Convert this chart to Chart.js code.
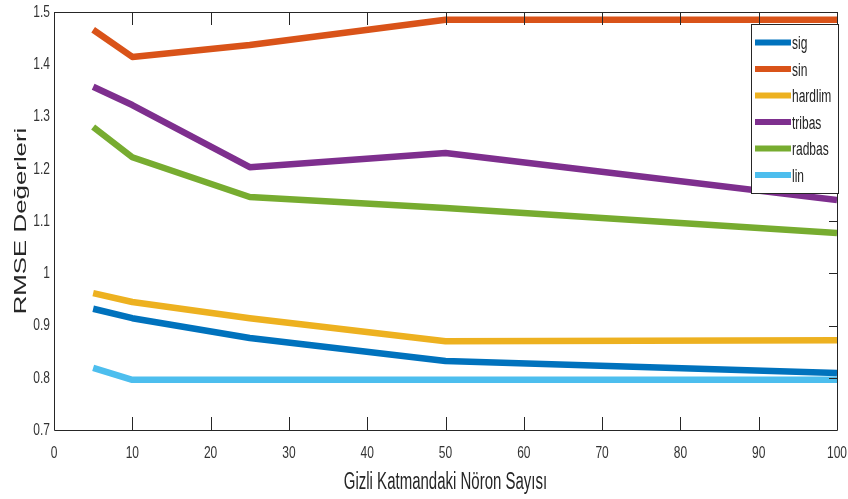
<!DOCTYPE html>
<html><head><meta charset="utf-8">
<script src="https://cdn.jsdelivr.net/npm/chart.js@4"></script>
<style>html,body{margin:0;padding:0;background:#fff}#wrap{width:848px;height:499px}</style>
</head><body><div id="wrap"><canvas id="c" width="848" height="499"></canvas></div>
<script>
const neurons = [5, 10, 25, 50, 100];
const sig     = [0.932, 0.914, 0.876, 0.832, 0.809];
const sin     = [1.466, 1.414, 1.437, 1.485, 1.485];
const hardlim = [0.962, 0.945, 0.914, 0.870, 0.872];
const tribas  = [1.357, 1.322, 1.203, 1.230, 1.140];
const radbas  = [1.280, 1.222, 1.146, 1.125, 1.077];
const lin     = [0.819, 0.796, 0.796, 0.796, 0.796];
const seriesNames = ['sig', 'sin', 'hardlim', 'tribas', 'radbas', 'lin'];
const seriesValues = [sig, sin, hardlim, tribas, radbas, lin];
const colors = ['#0072BD', '#D95319', '#EDB120', '#7E2F8E', '#77AC30', '#4DBEEE'];
const xTitle = 'Gizli Katmandaki Nöron Sayısı';
const yTitle = 'RMSE Değerleri';

const FONT = '"Liberation Sans", Arial, Helvetica, sans-serif';

const datasets = seriesNames.map((n, i) => ({
  label: n,
  data: neurons.map((x, j) => ({x: x, y: seriesValues[i][j]})),
  borderColor: colors[i], backgroundColor: colors[i],
  borderWidth: 6.5, pointRadius: 0, tension: 0, fill: false,
  borderJoinStyle: 'round', borderCapStyle: 'butt'
}));

function stretchedText(ctx, text, x, y, size, align, color, stretch, rotate) {
  ctx.save();
  ctx.translate(x, y);
  if (rotate) { ctx.rotate(-Math.PI / 2); ctx.scale(stretch, 1); }
  else ctx.scale(1, stretch);
  ctx.font = size + 'px ' + FONT;
  ctx.fillStyle = color;
  ctx.textAlign = align;
  ctx.textBaseline = 'middle';
  ctx.fillText(text, 0, 0);
  ctx.restore();
}

const boxPlugin = {
  id: 'box',
  afterDatasetsDraw(chart) {
    const ctx = chart.ctx, a = chart.chartArea, xs = chart.scales.x, ys = chart.scales.y;
    ctx.save();
    ctx.strokeStyle = '#262626'; ctx.lineWidth = 1;
    ctx.beginPath();
    ctx.rect(a.left + 0.5, a.top + 0.5, a.right - a.left, a.bottom - a.top);
    ctx.stroke();
    ctx.beginPath();
    xs.ticks.forEach(t => {
      const px = Math.round(xs.getPixelForValue(t.value)) + 0.5;
      ctx.moveTo(px, a.bottom); ctx.lineTo(px, a.bottom - 13);
      ctx.moveTo(px, a.top); ctx.lineTo(px, a.top + 13);
    });
    ys.ticks.forEach(t => {
      const py = Math.round(ys.getPixelForValue(t.value)) + 0.5;
      ctx.moveTo(a.right, py); ctx.lineTo(a.right - 8, py);
    });
    ctx.stroke();
    // tick labels
    xs.ticks.forEach(t => {
      stretchedText(ctx, String(t.value), xs.getPixelForValue(t.value), a.bottom + 23, 12, 'center', '#333', 1.45);
    });
    ys.ticks.forEach(t => {
      const lbl = String(Math.round(t.value * 10) / 10);
      stretchedText(ctx, lbl, a.left - 4, ys.getPixelForValue(t.value), 12, 'right', '#333', 1.45);
    });
    // axis titles
    stretchedText(ctx, xTitle, (a.left + a.right) / 2, 483, 15, 'center', '#262626', 1.55);
    stretchedText(ctx, yTitle, 21, (a.top + a.bottom) / 2, 17, 'center', '#262626', 1.52, true);
    // legend
    const lx = 751, ly = 24, lw = 87, lh = 169;
    ctx.fillStyle = '#fff';
    ctx.fillRect(lx, ly, lw, lh);
    ctx.strokeStyle = '#262626'; ctx.lineWidth = 1;
    ctx.strokeRect(lx + 0.5, ly + 0.5, lw, lh);
    chart.data.datasets.forEach((d, i) => {
      const y = ly + 18.5 + i * 26.5;
      ctx.strokeStyle = d.borderColor; ctx.lineWidth = 6;
      ctx.beginPath(); ctx.moveTo(755, y); ctx.lineTo(791, y); ctx.stroke();
      stretchedText(ctx, d.label, 792, y + 2, 12, 'left', '#222', 1.5);
    });
    ctx.restore();
  }
};

new Chart(document.getElementById('c'), {
  type: 'line',
  data: {datasets},
  options: {
    responsive: false, animation: false,
    layout: {padding: {top: 12, right: 11, left: 0, bottom: 0}},
    plugins: {legend: {display: false}, tooltip: {enabled: false}},
    scales: {
      x: {
        type: 'linear', min: 0, max: 100,
        ticks: {stepSize: 10, display: false},
        grid: {display: false, drawTicks: false},
        border: {display: false},
        afterFit(s) { s.height = 69; s.paddingLeft = 0; s.paddingRight = 0; }
      },
      y: {
        min: 0.7, max: 1.5,
        ticks: {stepSize: 0.1, display: false},
        grid: {display: false, drawTicks: false},
        border: {display: false},
        afterFit(s) { s.width = 54; s.paddingTop = 0; s.paddingBottom = 0; }
      }
    }
  },
  plugins: [boxPlugin]
});
</script></body></html>
